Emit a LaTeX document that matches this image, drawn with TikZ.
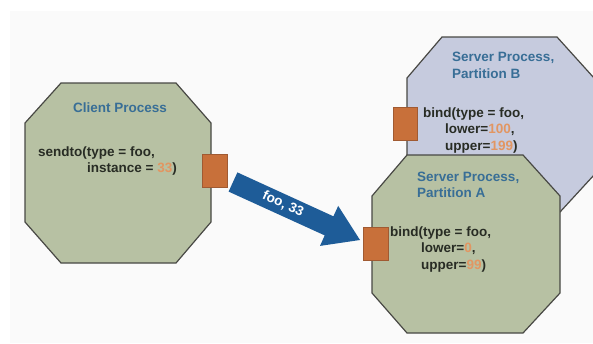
\documentclass[tikz,border=0pt]{standalone}
\usepackage{fontspec}
\setmainfont{Liberation Sans}
\definecolor{bgpanel}{RGB}{250,250,250}
\definecolor{sage}{RGB}{183,193,163}
\definecolor{lav}{RGB}{198,203,222}
\definecolor{edge}{RGB}{72,72,68}
\definecolor{port}{RGB}{200,112,58}
\definecolor{portedge}{RGB}{160,90,50}
\definecolor{titleblue}{RGB}{56,110,150}
\definecolor{numor}{RGB}{226,150,98}
\definecolor{darktxt}{RGB}{40,44,36}
\definecolor{arrowblue}{RGB}{30,92,152}
\tikzset{
  proc/.style={draw=edge, line width=1.2pt},
  portbox/.style={fill=port, draw=portedge, line width=0.6pt},
  ttl/.style={text=titleblue, font=\fontsize{13.5}{16}\selectfont\bfseries, inner sep=0pt},
  code/.style={text=darktxt, font=\fontsize{13.5}{16}\selectfont\bfseries, inner sep=0pt, anchor=base west},
}
\newcommand{\num}[1]{\textcolor{numor}{#1}}
\begin{document}
\begin{tikzpicture}[x=1pt,y=-1pt]
\clip (0,0) rectangle (593,343);
\fill[white] (0,0) rectangle (593,343);
\fill[bgpanel] (10,11) rectangle (593,343);

% Client process
\draw[proc, fill=sage] (61,83) -- (176,83) -- (211,123) -- (211,222) -- (176,263) -- (61,263) -- (25,222) -- (25,123) -- cycle;
\node[ttl, anchor=base] (ctitle) at (120,112) {Client Process};
\node[code] (c1) at (38,156) {sendto(type = foo,};
\node[code] (c2) at (87,172) {instance = \num{33})};
\draw[portbox] (202,154) rectangle (227,187);
\coordinate (cport) at (227,170);

% Server B
\draw[proc, fill=lav] (442,37) -- (557,37) -- (594,78) -- (594,175) -- (560,212) -- (442,212) -- (407,172) -- (407,78) -- cycle;
\node[ttl, anchor=base west] (btitle1) at (452,61) {Server Process,};
\node[ttl, anchor=base west] (btitle2) at (452,78) {Partition B};
\node[code] (b1) at (423,117) {bind(type = foo,};
\node[code] (b2) at (445,133) {lower=\num{100},};
\node[code] (b3) at (445,150) {upper=\num{199})};
\draw[portbox] (393,107) rectangle (417,140);

% Server A
\draw[proc, fill=sage] (407,155) -- (523,155) -- (560,196) -- (560,293) -- (523,333) -- (407,333) -- (372,293) -- (372,196) -- cycle;
\node[ttl, anchor=base west] (atitle1) at (417,181) {Server Process,};
\node[ttl, anchor=base west] (atitle2) at (417,197) {Partition A};
\node[code] (a1) at (390,236) {bind(type = foo,};
\node[code] (a2) at (421,252) {lower=\num{0},};
\node[code] (a3) at (421,269) {upper=\num{99})};
\draw[portbox] (363,227) rectangle (388,260);
\coordinate (aport) at (360,240);

% Block arrow
\fill[arrowblue] (237.4,172.4) -- (333.4,216.3) -- (338.2,205.9) -- (aport) -- (320.0,245.9) -- (324.7,235.4) -- (228.6,191.6) -- cycle;
\node[text=white, font=\fontsize{13.5}{16}\selectfont\bfseries, rotate=-24.55, inner sep=0pt] (alabel) at (283,204) {foo, 33};
\end{tikzpicture}
\end{document}
